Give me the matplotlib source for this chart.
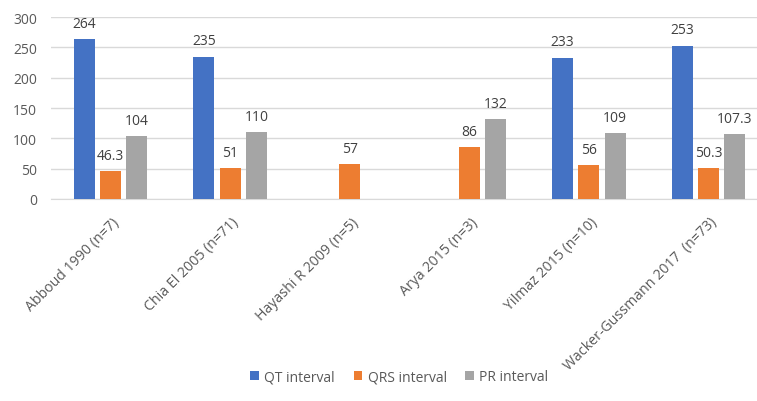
import numpy as np
import matplotlib.pyplot as plt
from matplotlib.transforms import ScaledTranslation

studies = ["Abboud 1990 (n=7)", "Chia El 2005 (n=71)", "Hayashi R 2009 (n=5)",
           "Arya 2015 (n=3)", "Yilmaz 2015 (n=10)", "Wacker-Gussmann 2017  (n=73)"]
qt = [264, 235, None, None, 233, 253]
qrs = [46.3, 51, 57, 86, 56, 50.3]
pr = [104, 110, None, 132, 109, 107.3]
series = [("QT interval", qt, "#4472C4"),
          ("QRS interval", qrs, "#ED7D31"),
          ("PR interval", pr, "#A5A5A5")]

plt.rcParams['font.family'] = ['Open Sans', 'DejaVu Sans']
text_col = "#595959"

fig = plt.figure(figsize=(7.57, 4.02), dpi=100)
# plot area runs a little past the right edge of the picture, as in the source
ax = fig.add_axes([0.067, 0.5025, 0.948, 0.4525])

x = np.arange(len(studies))
width = 0.176
offsets = [-0.22, 0, 0.22]
for (name, vals, col), off in zip(series, offsets):
    xs = [xi + off for xi, v in zip(x, vals) if v is not None]
    vs = [v for v in vals if v is not None]
    ax.bar(xs, vs, width, color=col, label=name, zorder=3)
    for xi, v in zip(xs, vs):
        ax.annotate(f"{v:g}", (xi, v), xytext=(0, 6), textcoords="offset points",
                    ha="center", va="bottom", fontsize=10, color="#404040")

ax.set_xlim(-0.5, len(studies) - 0.5)
ax.set_ylim(0, 300)
ax.set_yticks(range(0, 301, 50))
ax.yaxis.grid(True, color="#D9D9D9", linewidth=1, zorder=0)
for s in ["top", "right", "left"]:
    ax.spines[s].set_visible(False)
ax.spines["bottom"].set_color("#D9D9D9")
ax.tick_params(axis="both", length=0, colors=text_col, labelsize=10)
ax.tick_params(axis="y", pad=10)
ax.tick_params(axis="x", pad=11, labelsize=10.2)
ax.set_xticks(x)
ax.set_xticklabels(studies, rotation=45, ha="right", rotation_mode="anchor")
shift = ScaledTranslation(1 / 100, 0, fig.dpi_scale_trans)
for lab in ax.get_xticklabels():
    lab.set_transform(lab.get_transform() + shift)

ax.legend(loc="center", bbox_to_anchor=(0.486, -0.978), ncol=3, frameon=False,
          fontsize=10, handlelength=0.6, handleheight=0.6, handletextpad=0.4,
          columnspacing=1.35, labelcolor=text_col)

fig.savefig("out.png", dpi=100)
